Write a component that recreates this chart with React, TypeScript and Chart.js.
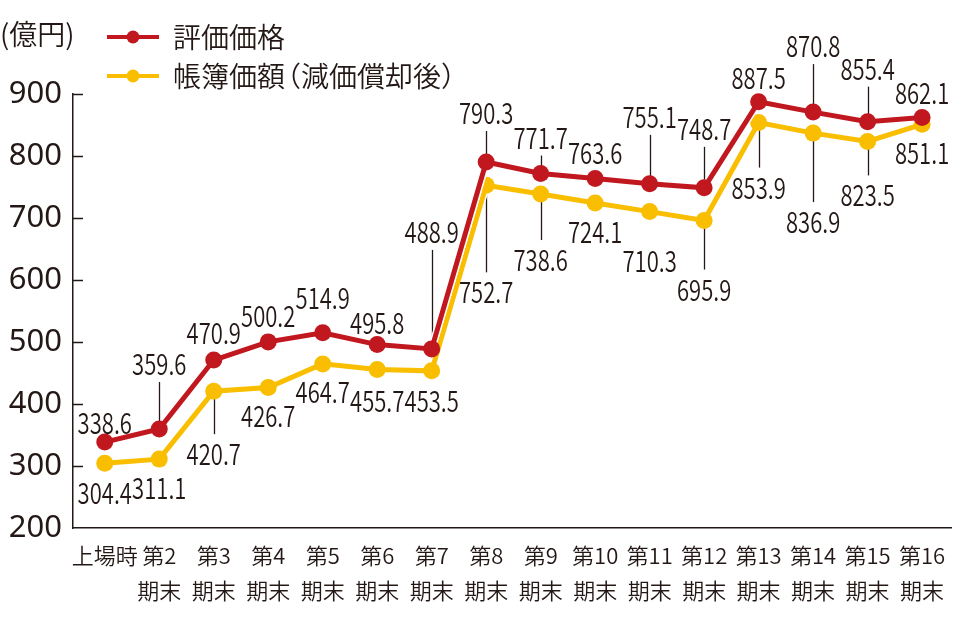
import { useEffect, useRef } from 'react'
import { Chart, registerables } from 'chart.js'

Chart.register(...registerables)

const periods: (string | string[])[] = [
  '上場時',
  ['第2', '期末'], ['第3', '期末'], ['第4', '期末'], ['第5', '期末'], ['第6', '期末'],
  ['第7', '期末'], ['第8', '期末'], ['第9', '期末'], ['第10', '期末'], ['第11', '期末'],
  ['第12', '期末'], ['第13', '期末'], ['第14', '期末'], ['第15', '期末'], ['第16', '期末'],
]

// 評価価格 (億円)
const appraisal = [338.6, 359.6, 470.9, 500.2, 514.9, 495.8, 488.9, 790.3, 771.7, 763.6, 755.1, 748.7, 887.5, 870.8, 855.4, 862.1]
// 帳簿価額 (減価償却後)
const bookValue = [304.4, 311.1, 420.7, 426.7, 464.7, 455.7, 453.5, 752.7, 738.6, 724.1, 710.3, 695.9, 853.9, 836.9, 823.5, 851.1]

const yMin = 200
const yMax = 900
const yStep = 100

// label placement (px from the point) and whether a leader line is drawn
const appraisalLabelDy = [-20, -66, -28, -27, -36, -23, -118, -50, -37, -27, -68, -60, -25, -67, -54, -26]
const appraisalLeader = [0, 1, 0, 0, 0, 0, 1, 1, 1, 0, 1, 1, 0, 1, 1, 0]
const bookLabelDy = [29, 28, 62, 28, 27, 31, 29, 106, 65, 28, 48, 68, 64, 88, 53, 28]
const bookLeader = [0, 0, 1, 0, 0, 0, 0, 1, 1, 0, 0, 1, 1, 1, 1, 0]

const INK = '#231815'
const RED = '#c1181f'
const YELLOW = '#f9be00'
const JP = '"Noto Sans CJK JP", "Noto Sans", sans-serif'

const labelSets = [
  { index: 0, dy: appraisalLabelDy, leader: appraisalLeader, values: appraisal },
  { index: 2, dy: bookLabelDy, leader: bookLeader, values: bookValue },
]

const overlay = {
  id: 'overlay',
  beforeDatasetsDraw(chart: Chart) {
    const ctx = chart.ctx
    ctx.save()
    ctx.strokeStyle = INK
    ctx.lineWidth = 1.3
    labelSets.forEach((s) => {
      chart.getDatasetMeta(s.index).data.forEach((pt: any, i: number) => {
        if (!s.leader[i]) return
        const dy = s.dy[i]
        const end = pt.y + dy - Math.sign(dy) * 19
        ctx.beginPath()
        ctx.moveTo(Math.round(pt.x) + 0.5, pt.y)
        ctx.lineTo(Math.round(pt.x) + 0.5, end)
        ctx.stroke()
      })
    })
    ctx.restore()
  },
  afterDatasetsDraw(chart: Chart) {
    const ctx = chart.ctx
    ctx.save()
    ctx.fillStyle = INK
    ctx.font = `350 29px ${JP}`
    ctx.textAlign = 'center'
    ctx.textBaseline = 'middle'
    labelSets.forEach((s) => {
      chart.getDatasetMeta(s.index).data.forEach((pt: any, i: number) => {
        ctx.save()
        ctx.translate(pt.x, pt.y + s.dy[i])
        ctx.scale(0.76, 1)
        ctx.fillText(s.values[i].toFixed(1), 0, 1)
        ctx.restore()
      })
    })
    ctx.restore()
  },
  afterDraw(chart: Chart) {
    const ctx = chart.ctx
    const y = chart.scales.y
    const left = chart.chartArea.left
    ctx.save()
    // inward tick marks on the value axis
    ctx.strokeStyle = INK
    ctx.lineWidth = 1.5
    for (let v = yMin + yStep; v <= yMax; v += yStep) {
      const py = Math.round(y.getPixelForValue(v)) + 0.5
      ctx.beginPath()
      ctx.moveTo(left, py)
      ctx.lineTo(left + 10, py)
      ctx.stroke()
    }
    // unit
    ctx.fillStyle = INK
    ctx.textBaseline = 'middle'
    ctx.textAlign = 'left'
    ctx.font = `350 28px ${JP}`
    ctx.fillText('(億円)', 0, 34)
    // legend
    const items = [
      { color: RED, y: 37 },
      { color: YELLOW, y: 76 },
    ]
    items.forEach((it) => {
      ctx.strokeStyle = it.color
      ctx.lineWidth = 4
      ctx.beginPath()
      ctx.moveTo(107, it.y)
      ctx.lineTo(159, it.y)
      ctx.stroke()
      ctx.fillStyle = it.color
      ctx.beginPath()
      ctx.arc(133, it.y, 6.5, 0, Math.PI * 2)
      ctx.fill()
    })
    ctx.fillStyle = INK
    ctx.font = `350 28px ${JP}`
    ctx.fillText('評価価格', 173, 37)
    ctx.fillText('帳簿価額', 173, 76)
    ctx.fillText('（減価償却後）', 273, 76)
    ctx.restore()
  },
}

export default function App() {
  const canvasRef = useRef<HTMLCanvasElement>(null)
  const chartRef = useRef<Chart | null>(null)

  useEffect(() => {
    if (!canvasRef.current) return
    if (chartRef.current) chartRef.current.destroy()

    const line = (data: number[], color: string) => ({
      data: data.map((v, i) => ({ x: i, y: v })),
      borderColor: color,
      backgroundColor: color,
      borderWidth: 5,
      pointRadius: 8.5,
      pointBorderWidth: 0,
      pointBackgroundColor: color,
      tension: 0,
      fill: false,
      clip: false as const,
    })
    const outline = (data: number[]) => ({
      data: data.map((v, i) => ({ x: i, y: v })),
      borderColor: '#ffffff',
      borderWidth: 8,
      pointRadius: 0,
      tension: 0,
      fill: false,
      clip: false as const,
    })

    chartRef.current = new Chart(canvasRef.current, {
      type: 'line',
      data: {
        datasets: [
          line(appraisal, RED),
          outline(appraisal),
          line(bookValue, YELLOW),
          outline(bookValue),
        ],
      },
      plugins: [overlay],
      options: {
        animation: false,
        responsive: true,
        maintainAspectRatio: false,
        events: [],
        layout: { padding: { top: 94, right: 2, left: 0, bottom: 0 } },
        plugins: { legend: { display: false }, tooltip: { enabled: false } },
        scales: {
          x: {
            type: 'linear',
            min: -0.583,
            max: 15.54,
            afterBuildTicks: (s: any) => {
              s.ticks = periods.map((_, i) => ({ value: i }))
            },
            afterFit: (s: any) => {
              s.height = 92
            },
            grid: { display: false, drawTicks: false },
            border: { display: true, color: INK, width: 1.5 },
            ticks: {
              autoSkip: false,
              maxRotation: 0,
              padding: 11,
              color: INK,
              font: { family: JP, size: 22, weight: 350, lineHeight: 1.55 },
              callback: (v: any) => periods[Math.round(Number(v))] ?? '',
            },
          },
          y: {
            min: yMin,
            max: yMax,
            afterFit: (s: any) => {
              s.width = 73
            },
            grid: { display: false, drawTicks: false },
            border: { display: true, color: INK, width: 1.5 },
            ticks: {
              stepSize: yStep,
              padding: 11,
              color: INK,
              font: { family: '"Noto Sans", sans-serif', size: 31 },
            },
          },
        },
      },
    })

    return () => { chartRef.current?.destroy() }
  }, [])

  return (
    <div style={{ position: 'fixed', left: 0, top: 0, width: 960, height: 620, background: '#fff' }}>
      <canvas ref={canvasRef} />
    </div>
  )
}
